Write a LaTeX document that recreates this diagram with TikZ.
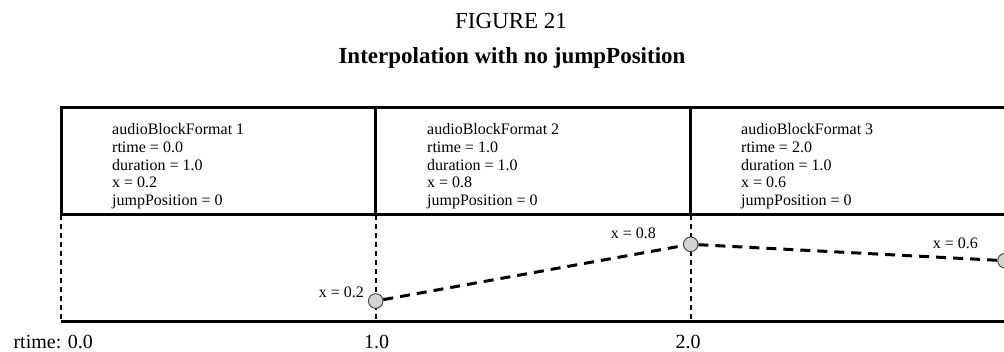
\documentclass[tikz,border=0pt]{standalone}
\usepackage{fontspec}
\setmainfont{Liberation Serif}
\usetikzlibrary{positioning}

\begin{document}
\begin{tikzpicture}[x=1pt,y=-1pt,
  frame/.style={line width=3pt},
  grid/.style={line width=2pt,dash pattern=on 5pt off 4pt},
  interp/.style={line width=3pt,dash pattern=on 10pt off 7pt},
  pt/.style={circle,draw=black!75,fill=black!17,line width=.9pt,minimum size=14.6pt,inner sep=0pt},
  lbl/.style={font=\fontsize{16}{17.7}\selectfont,inner sep=0pt}]
\useasboundingbox (0,0) rectangle (1004,352);
\node[font=\fontsize{23}{26}\selectfont,anchor=base] (fig) at (511,29) {FIGURE 21};
\node[font=\fontsize{23}{26}\selectfont\bfseries,anchor=base] (ttl) at (512,64) {Interpolation with no jumpPosition};
% block table
\draw[frame] (1010,108) -| (61,215) -- (1010,215);
\foreach \x in {375.7,690.7}{\draw[frame] (\x,108) -- (\x,215);}
\foreach \x/\n/\t/\v in {112/1/0.0/0.2,427/2/1.0/0.8,741/3/2.0/0.6}{
  \node[lbl,align=left,anchor=north west] (b\n) at (\x,123.4) {audioBlockFormat \n\\rtime = \t\\duration = 1.0\\x = \v\\jumpPosition = 0};}
% time grid
\foreach \x in {61,375.7,690.7}{\draw[grid] (\x,215) -- (\x,322);}
\draw[frame] (61,322) -- (1010,322);
\node[font=\fontsize{20}{24}\selectfont,anchor=base west] (t0) at (10,349) {rtime: 0.0};
\foreach \x/\lab [count=\i] in {376.7/1.0,688/2.0}{\node[font=\fontsize{20}{24}\selectfont,anchor=base] (t\i) at (\x,349) {\lab};}
% positions
\node[pt] (p1) at (375.7,301) {};
\node[pt] (p2) at (690.7,244.3) {};
\node[pt] (p3) at (1005,260.7) {};
\draw[interp] (p1) -- (p2) -- (p3);
\node[lbl,anchor=base east] (x1) at (364,298) {x = 0.2};
\node[lbl,anchor=base east] (x2) at (656,239) {x = 0.8};
\node[lbl,anchor=base east] (x3) at (978,249) {x = 0.6};
\end{tikzpicture}
\end{document}
